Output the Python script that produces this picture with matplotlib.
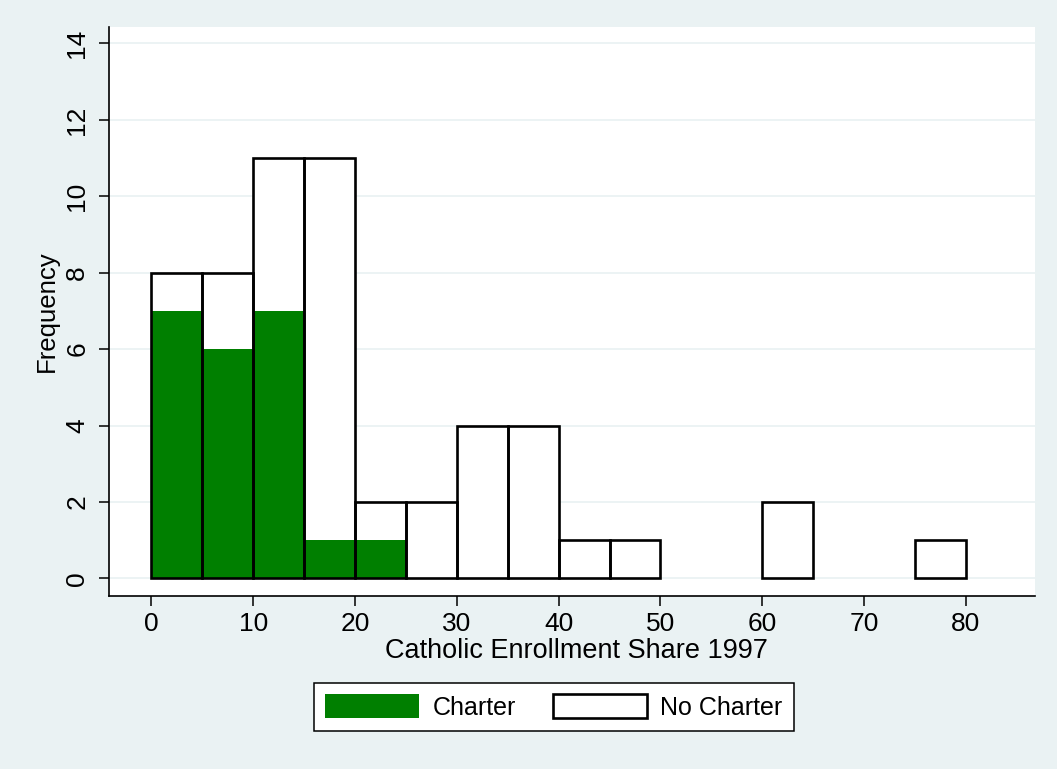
import matplotlib
matplotlib.use("Agg")
import matplotlib.pyplot as plt
import numpy as np
from matplotlib.patches import Patch

# Histogram data: 5-point bins of Catholic enrollment share (1997)
bin_edges = [0, 5, 10, 15, 20, 25, 30, 35, 40, 45, 50, 55, 60, 65, 70, 75, 80]
total_counts = [8, 8, 11, 11, 2, 2, 4, 4, 1, 1, 0, 0, 2, 0, 0, 1]
charter_counts = [7, 6, 7, 1, 1, 0, 0, 0, 0, 0, 0, 0, 0, 0, 0, 0]
x_ticks = [0, 10, 20, 30, 40, 50, 60, 70, 80]
y_ticks = [0, 2, 4, 6, 8, 10, 12, 14]
x_title = "Catholic Enrollment Share 1997"
y_title = "Frequency"
legend_labels = ["Charter", "No Charter"]

BG = "#EAF2F3"
GREEN = "#007F00"
INK = "#000000"
plt.rcParams["font.family"] = ["Liberation Sans", "DejaVu Sans"]

fig = plt.figure(figsize=(10.57, 7.69), dpi=100, facecolor=BG)
ax = fig.add_axes([0.1031, 0.2250, 0.8761, 0.7399])
ax.set_facecolor("white")

left = np.array(bin_edges[:-1], dtype=float)
width = np.diff(bin_edges).astype(float)
tot = np.array(total_counts, dtype=float)
cha = np.array(charter_counts, dtype=float)
mt = tot > 0
mc = cha > 0

# white bars (all), green charter bars, then outlines on top
ax.bar(left[mt], tot[mt], width=width[mt], align="edge", color="white",
       edgecolor="none", zorder=2)
ax.bar(left[mc], cha[mc], width=width[mc], align="edge", color=GREEN,
       edgecolor="none", zorder=3)
ax.bar(left[mt], tot[mt], width=width[mt], align="edge", fill=False,
       edgecolor="black", linewidth=1.9, zorder=4)

ax.set_xlim(-4.17, 86.8)
ax.set_ylim(-0.46, 14.43)
ax.set_xticks(x_ticks)
ax.set_yticks(y_ticks)
ax.set_yticklabels([str(v) for v in y_ticks], rotation=90, va="center")
ax.tick_params(axis="both", length=7.2, width=1.1, color="black",
               labelsize=19, labelcolor=INK)
ax.tick_params(axis="x", pad=4)
ax.tick_params(axis="y", pad=7)

ax.grid(axis="y", color=BG, linewidth=1.3, zorder=0)
ax.set_axisbelow(True)
for s in ("top", "right"):
    ax.spines[s].set_visible(False)
for s in ("left", "bottom"):
    ax.spines[s].set_linewidth(1.2)
    ax.spines[s].set_color("black")

fig.text(576 / 1057, 1 - 651 / 769, x_title, ha="center", va="center",
         fontsize=19.5, color=INK)
fig.text(47 / 1057, 1 - 311 / 769, y_title, ha="center", va="center",
         rotation=90, fontsize=18.5, color=INK)

handles = [Patch(facecolor=GREEN, edgecolor="none"),
           Patch(facecolor="white", edgecolor="black", linewidth=1.9)]
leg = fig.legend(handles, legend_labels, loc="center",
                 bbox_to_anchor=(554 / 1057, 1 - 707 / 769), ncol=2,
                 fontsize=18, frameon=True, fancybox=False,
                 edgecolor="black", facecolor="white", framealpha=1,
                 handlelength=3.76, handleheight=1.05, handletextpad=0.55,
                 columnspacing=1.45, borderpad=0.45, borderaxespad=0)
leg.get_frame().set_linewidth(1.1)
for t in leg.get_texts():
    t.set_color(INK)

fig.savefig("out.png", dpi=100, facecolor=BG)
